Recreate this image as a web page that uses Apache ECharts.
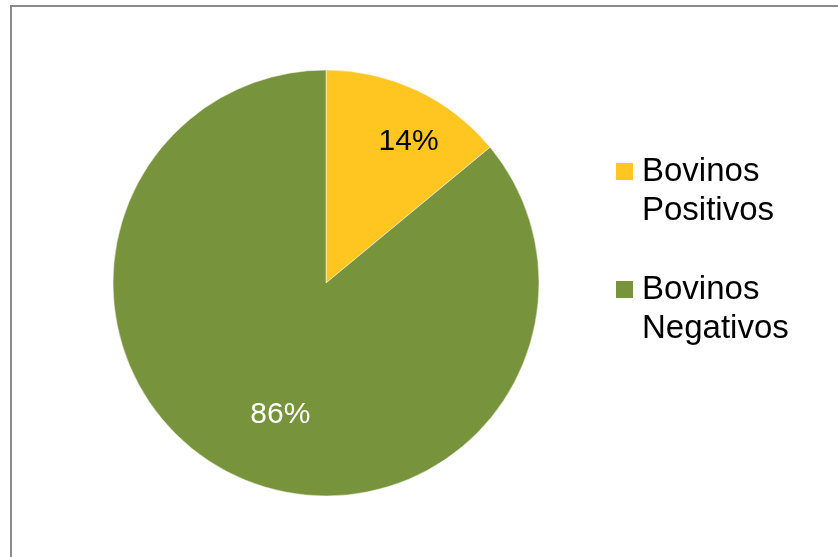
<!DOCTYPE html>
<html>
<head>
<meta charset="utf-8">
<script src="https://cdn.jsdelivr.net/npm/echarts@6/dist/echarts.min.js"></script>
<style>
html,body{margin:0;padding:0;background:#fff;}
#chart{width:838px;height:557px;}
</style>
</head>
<body>
<div id="chart"></div>
<script>
var categories = ['Bovinos Positivos', 'Bovinos Negativos'];
var legendLines = ['Bovinos\nPositivos', 'Bovinos\nNegativos'];
var values = [14, 86];
var labels = ['14%', '86%'];
var colors = ['#FFC520', '#77933C'];
var labelColors = ['#000000', '#FFFFFF'];

var chart = echarts.init(document.getElementById('chart'));
var data = categories.map(function (c, i) {
  return {
    name: c,
    value: values[i],
    itemStyle: { color: colors[i] },
    label: { color: labelColors[i] }
  };
});
var labelShift = [[36, -42], [1, 33]];
chart.setOption({
  animation: false,
  backgroundColor: '#fff',
  graphic: [{
    type: 'rect',
    shape: { x: 11, y: 6, width: 900, height: 600 },
    style: { fill: 'none', stroke: '#8a8a8a', lineWidth: 2 },
    silent: true
  }],
  legend: {
    orient: 'vertical',
    left: 611,
    top: 147,
    itemWidth: 25,
    itemHeight: 56,
    itemGap: 40,
    icon: 'path://M0,0H10V10H0Z M0,32.94L0.001,32.94',
    itemStyle: { borderWidth: 0 },
    data: categories,
    formatter: function (name) {
      return legendLines[categories.indexOf(name)];
    },
    textStyle: {
      fontFamily: 'Liberation Sans, Arial, sans-serif',
      fontSize: 33,
      lineHeight: 39,
      color: '#000'
    }
  },
  series: [{
    type: 'pie',
    center: [326, 283],
    radius: 213,
    startAngle: 90,
    clockwise: true,
    data: data,
    itemStyle: { borderColor: '#fff', borderWidth: 0.5 },
    label: {
      show: true,
      position: 'inside',
      fontFamily: 'Liberation Sans, Arial, sans-serif',
      fontSize: 30,
      formatter: function (p) { return labels[p.dataIndex]; }
    },
    labelLine: { show: false },
    labelLayout: function (p) {
      return { dx: labelShift[p.dataIndex][0], dy: labelShift[p.dataIndex][1] };
    },
    emphasis: { disabled: true }
  }]
});
</script>
</body>
</html>
